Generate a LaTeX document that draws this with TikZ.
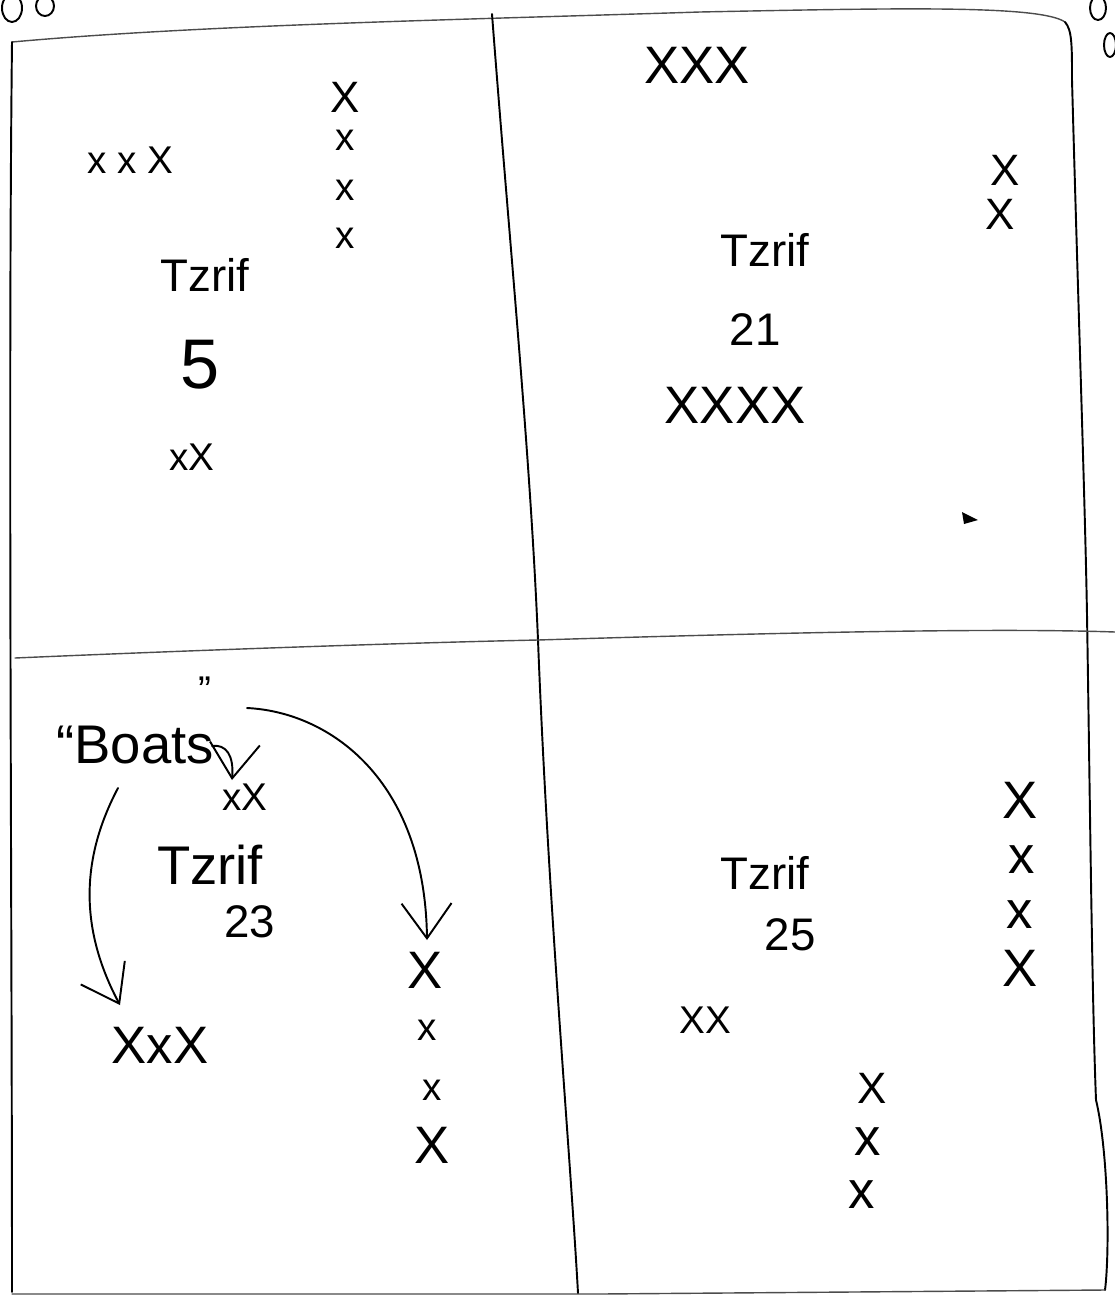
\documentclass[tikz,border=0pt]{standalone}
\usepackage{fontspec}
\setmainfont{Liberation Sans}
\usetikzlibrary{arrows.meta}
\tikzset{
  pen/.style={line width=1.1pt, line cap=round, line join=round},
  faint/.style={line width=0.8pt, line cap=round, black!70},
  hw/.style={inner sep=0pt, font=\fontsize{26}{30}\selectfont},
  hwl/.style={inner sep=0pt, font=\fontsize{31}{34}\selectfont},
  big/.style={inner sep=0pt, font=\fontsize{40}{44}\selectfont},
  bigx/.style={inner sep=0pt, font=\fontsize{30}{34}\selectfont},
  midx/.style={inner sep=0pt, font=\fontsize{25}{28}\selectfont},
  small/.style={inner sep=0pt, font=\fontsize{22}{26}\selectfont},
  barb/.style={-{Straight Barb[length=7mm,width=10mm,line width=1.1pt]}}
}
\begin{document}
\begin{tikzpicture}[x=0.02cm,y=-0.02cm]
\useasboundingbox (0,0) rectangle (1115,1298);
% binder doodles
\draw[pen] (12,8) ellipse (10 and 14);
\draw[pen] (45,6) ellipse (9 and 10);
\draw[pen] (1098,8) ellipse (8 and 12);
\draw[pen] (1110,45) ellipse (6 and 12);
% outer border
\draw[faint] (12,42) .. controls (200,25) and (450,20) .. (700,12) .. controls (900,8) and (1040,5) .. (1065,22);
\draw[pen] (1065,22) .. controls (1072,30) and (1072,45) .. (1072,80) .. controls (1078,300) and (1085,500) .. (1087,615) .. controls (1090,800) and (1092,1000) .. (1096,1100) .. controls (1108,1150) and (1110,1250) .. (1105,1290);
\draw[pen] (12,42) .. controls (8,400) and (12,900) .. (12,1292);
\draw[faint] (12,1294) -- (600,1294) -- (1105,1290);
% dividers
\draw[pen] (492,14) .. controls (510,250) and (530,450) .. (538,640) .. controls (548,900) and (570,1150) .. (578,1293);
\draw[faint] (15,658) .. controls (200,650) and (400,643) .. (538,640) .. controls (800,632) and (1000,628) .. (1115,632);
% top-left
\node[small] (tl1) at (130,160) {x x X};
\node[midx] (tlc1) at (345,97) {X};
\node[small] (tlc2) at (345,140) {x};
\node[small] (tlc3) at (345,190) {x};
\node[small] (tlc4) at (345,238) {x};
\node[hw] (tlt) at (205,275) {Tzrif};
\node[big] (tln) at (200,365) {5};
\node[small] (tlxx) at (192,457) {xX};
% top-right
\node[bigx] (tr1) at (697,65) {XXX};
\node[midx] (trc1) at (1005,170) {X};
\node[midx] (trc2) at (1000,214) {X};
\node[hw] (trt) at (765,250) {Tzrif};
\node[hw] (trn) at (755,330) {21};
\node[bigx] (tr4) at (735,405) {XXXX};
\fill (962,512) -- (978,520) -- (964,524) -- cycle;
% bottom-left
\node[hwl] (boats) at (135,745) {“Boats};
\node[small] (bq) at (205,690) {”};
\node[small] (blxx) at (245,797) {xX};
\node[hwl] (blt) at (210,865) {Tzrif};
\node[hw] (bln) at (250,922) {23};
\node[bigx] (blx3) at (160,1045) {XxX};
\node[bigx] (blc1) at (425,970) {X};
\node[small] (blc2) at (427,1030) {x};
\node[small] (blc3) at (432,1090) {x};
\node[bigx] (blc4) at (432,1145) {X};
\coordinate (a1s) at (247,708);
\coordinate (a1e) at (427,940);
\coordinate (a2s) at (118,788);
\coordinate (a2e) at (120,1005);
\coordinate (a3s) at (212,746);
\coordinate (a3e) at (232,780);
\draw[pen,barb] (a1s) .. controls (330,712) and (425,780) .. (a1e);
\draw[pen,barb] (a2s) .. controls (80,860) and (80,930) .. (a2e);
\draw[pen,barb] (a3s) .. controls (226,744) and (234,755) .. (a3e);
% bottom-right
\node[hw] (brt) at (765,873) {Tzrif};
\node[hw] (brn) at (790,935) {25};
\node[small] (brxx) at (705,1020) {XX};
\node[bigx] (brc1) at (1020,800) {X};
\node[bigx] (brc2) at (1022,860) {x};
\node[bigx] (brc3) at (1020,915) {x};
\node[bigx] (brc4) at (1020,968) {X};
\node[midx] (brd1) at (872,1088) {X};
\node[bigx] (brd2) at (868,1142) {x};
\node[bigx] (brd3) at (862,1195) {x};
\end{tikzpicture}
\end{document}
